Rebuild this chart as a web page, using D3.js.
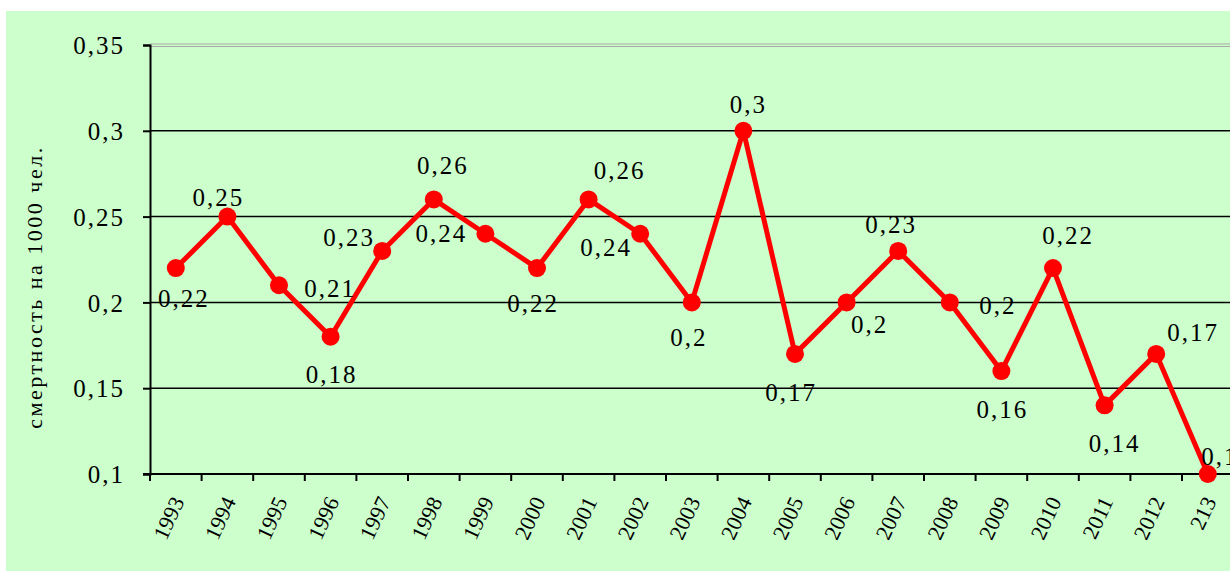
<!DOCTYPE html>
<html><head><meta charset="utf-8">
<script src="https://cdn.jsdelivr.net/npm/d3@7"></script>
<style>
html,body{margin:0;padding:0;background:#fff;}
svg{display:block;}
</style></head><body>
<svg id="c" width="1230" height="572"></svg>
<script>
const categories = ["1993","1994","1995","1996","1997","1998","1999","2000","2001","2002","2003","2004","2005","2006","2007","2008","2009","2010","2011","2012","213"];
const values = [0.22,0.25,0.21,0.18,0.23,0.26,0.24,0.22,0.26,0.24,0.2,0.3,0.17,0.2,0.23,0.2,0.16,0.22,0.14,0.17,0.1];
const yTicks = [0.1,0.15,0.2,0.25,0.3,0.35];
const yTitle = "смертность на 1000 чел.";
// label offsets (layout, px) relative to each point
const labelDx = [7,-10,50,0,-34,8,-45,-5,30,-35,-4,4,-5,22,-8,47,0,14,9,36,11];
const labelDy = [30,-19,3,38,-14,-34,-1,35,-29,13,35,-27,38,22,-27,3,38,-33,38,-22,-18];

const FONT = '"Liberation Serif", "Times New Roman", Tinos, serif';
const fmt = v => String(v).replace(".", ",");
const svg = d3.select("#c");
svg.append("rect").attr("x",6).attr("y",11).attr("width",1224).attr("height",560).attr("fill","#CCFFCC");

const mLeft = 150, mTop = 45, mBottom = 474, band = 51.6;
const x = d3.scaleBand().domain(categories).range([mLeft, mLeft + band*categories.length]).padding(0);
const y = d3.scaleLinear().domain([0.1,0.35]).range([mBottom, mTop]);

// gridlines
const g = svg.append("g");
yTicks.forEach(t => {
  if (t === 0.1) return;
  if (t === 0.35) {
    g.append("line").attr("x1",mLeft).attr("x2",1230).attr("y1",y(t)-1).attr("y2",y(t)-1).attr("stroke","#a8a8a8").attr("stroke-width",1);
    g.append("line").attr("x1",mLeft).attr("x2",1230).attr("y1",y(t)+1.5).attr("y2",y(t)+1.5).attr("stroke","#a8a8a8").attr("stroke-width",1);
  } else {
    g.append("line").attr("x1",mLeft).attr("x2",1230).attr("y1",y(t)).attr("y2",y(t)).attr("stroke","#000").attr("stroke-width",1.5);
  }
});

// y axis
const yAxis = svg.append("g").attr("transform",`translate(${mLeft},0)`)
  .call(d3.axisLeft(y).tickValues(yTicks).tickSize(7).tickPadding(18).tickFormat(fmt));
yAxis.select(".domain").attr("stroke","#000").attr("stroke-width",2);
yAxis.selectAll(".tick line").attr("stroke","#000").attr("stroke-width",2);
yAxis.selectAll(".tick text").style("font-family",FONT).style("font-size","25px").style("letter-spacing","2px").attr("fill","#000").attr("dy","0.35em");

// x axis (ticks between categories)
const xAxisG = svg.append("g").attr("transform",`translate(0,${mBottom})`);
xAxisG.append("line").attr("x1",mLeft-7).attr("x2",1230).attr("y1",0).attr("y2",0).attr("stroke","#000").attr("stroke-width",2);
categories.forEach((c,i) => {
  const xt = x(c);
  xAxisG.append("line").attr("x1",xt).attr("x2",xt).attr("y1",0).attr("y2",7).attr("stroke","#000").attr("stroke-width",2);
});
xAxisG.selectAll("text.xl").data(categories).enter().append("text").attr("class","xl")
  .attr("transform", d => `translate(${x(d)+x.bandwidth()/2+2},${24}) rotate(-65)`)
  .attr("text-anchor","end").attr("dy","0.35em")
  .style("font-family",FONT).style("font-size","22px").attr("fill","#000")
  .text(d => d);

// y title
svg.append("text").attr("transform","translate(34,287) rotate(-90)").attr("text-anchor","middle")
  .attr("dy","0.35em").style("font-family",FONT).style("font-size","22px").style("letter-spacing","2.5px").attr("fill","#000").text(yTitle);

// line
const cx = (d,i) => x(categories[i]) + x.bandwidth()/2;
const line = d3.line().x((d,i)=>cx(d,i)).y(d=>y(d));
svg.append("path").datum(values).attr("d",line).attr("fill","none").attr("stroke","#FF0000").attr("stroke-width",5).attr("stroke-linejoin","round");
svg.selectAll("circle.pt").data(values).enter().append("circle").attr("class","pt")
  .attr("cx",(d,i)=>cx(d,i)).attr("cy",d=>y(d)).attr("r",9).attr("fill","#FF0000");

// data labels
svg.selectAll("text.dl").data(values).enter().append("text").attr("class","dl")
  .attr("x",(d,i)=>cx(d,i)+labelDx[i]+1).attr("y",(d,i)=>y(d)+labelDy[i])
  .attr("text-anchor","middle").attr("dy","0.35em")
  .style("font-family",FONT).style("font-size","25px").style("letter-spacing","2px").attr("fill","#000")
  .text(d=>fmt(d));
</script>
</body></html>
